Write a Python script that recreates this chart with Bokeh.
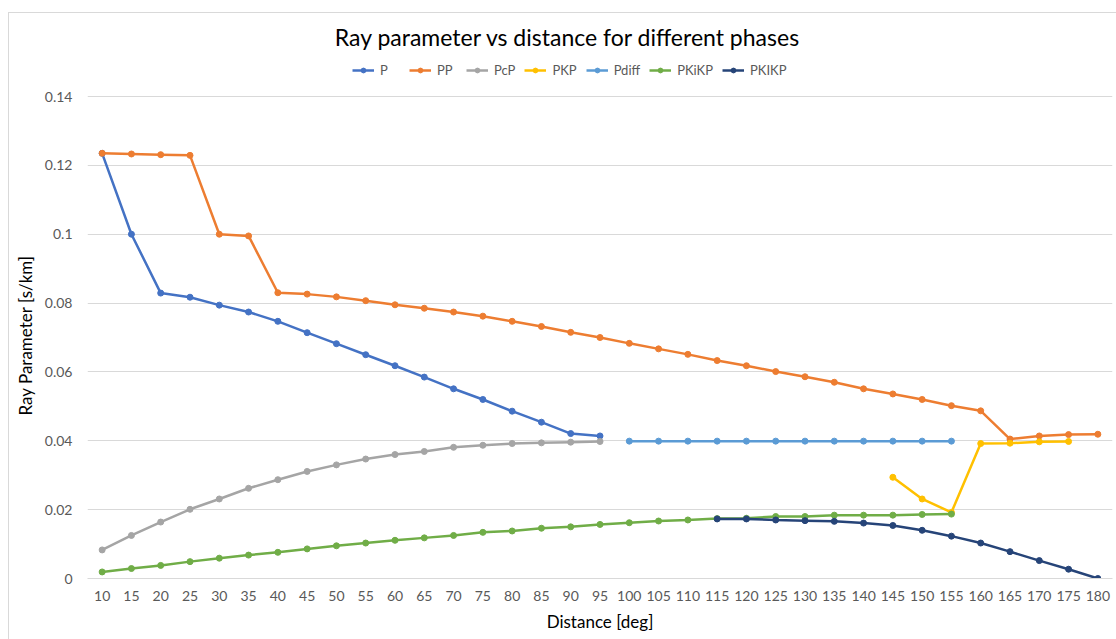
from bokeh.plotting import figure
from bokeh.models import (FactorRange, Range1d, FixedTicker, Legend, LegendItem,
                          Label, Title)
from bokeh.embed import file_html
from bokeh.resources import INLINE

# Epicentral distance categories (deg)
distances = [str(d) for d in range(10, 185, 5)]

# Ray parameter (s/km) per phase, each over the distances where it exists
p_dist = distances[0:18]            # 10..95
p_vals = [0.1235, 0.1000, 0.0829, 0.0817, 0.0794, 0.0774, 0.0747, 0.0714,
          0.0682, 0.0650, 0.0618, 0.0585, 0.0551, 0.0520, 0.0486, 0.0454,
          0.0421, 0.0414]

pp_dist = distances                 # 10..180
pp_vals = [0.1235, 0.1233, 0.1231, 0.1229, 0.1000, 0.0995, 0.0830, 0.0826,
           0.0818, 0.0807, 0.0795, 0.0785, 0.0774, 0.0762, 0.0747, 0.0732,
           0.0715, 0.0700, 0.0683, 0.0667, 0.0651, 0.0633, 0.0618, 0.0601,
           0.0586, 0.0570, 0.0551, 0.0536, 0.0520, 0.0502, 0.0487, 0.0405,
           0.0414, 0.0418, 0.0419]

pcp_dist = distances[0:18]          # 10..95
pcp_vals = [0.0083, 0.0125, 0.0164, 0.0201, 0.0231, 0.0262, 0.0287, 0.0311,
            0.0330, 0.0347, 0.0360, 0.0369, 0.0381, 0.0387, 0.0392, 0.0394,
            0.0396, 0.0398]

pkp_dist = distances[27:34]         # 145..175
pkp_vals = [0.0294, 0.0231, 0.0192, 0.0392, 0.0393, 0.0397, 0.0398]

pdiff_dist = distances[18:30]       # 100..155
pdiff_vals = [0.0399] * 12

pkikp_i_dist = distances[0:30]      # 10..155
pkikp_i_vals = [0.0019, 0.0029, 0.0038, 0.0049, 0.0059, 0.0068, 0.0076,
                0.0086, 0.0095, 0.0103, 0.0111, 0.0118, 0.0125, 0.0134,
                0.0138, 0.0146, 0.0150, 0.0157, 0.0162, 0.0167, 0.0170,
                0.0174, 0.0175, 0.0180, 0.0180, 0.0184, 0.0184, 0.0184,
                0.0186, 0.0187]

pkikp_dist = distances[21:35]       # 115..180
pkikp_vals = [0.0173, 0.0173, 0.0170, 0.0168, 0.0166, 0.0161, 0.0154,
              0.0140, 0.0123, 0.0103, 0.0078, 0.0052, 0.0027, 0.0000]

y_ticks = [0, 0.02, 0.04, 0.06, 0.08, 0.1, 0.12, 0.14]
y_tick_labels = ["0", "0.02", "0.04", "0.06", "0.08", "0.1", "0.12", "0.14"]

series = [
    ("P", p_dist, p_vals, "#4472C4"),
    ("PP", pp_dist, pp_vals, "#ED7D31"),
    ("PcP", pcp_dist, pcp_vals, "#A5A5A5"),
    ("PKP", pkp_dist, pkp_vals, "#FFC000"),
    ("Pdiff", pdiff_dist, pdiff_vals, "#5B9BD5"),
    ("PKiKP", pkikp_i_dist, pkikp_i_vals, "#70AD47"),
    ("PKIKP", pkikp_dist, pkikp_vals, "#264478"),
]

FONT = "Lato"
GRID = "#D9D9D9"
TICK_TEXT = "#595959"

# The frame runs from the chart's top edge down to the zero line; gridlines
# and ticks stop at 0.14, leaving the band above for the title and legend.
FRAME_W, FRAME_H = 1025, 564
PX_PER_UNIT = 482 / 0.14
Y_TOP = FRAME_H / PX_PER_UNIT

p = figure(
    x_range=FactorRange(factors=distances, range_padding=0),
    y_range=Range1d(0, Y_TOP),
    frame_width=FRAME_W, frame_height=FRAME_H,
    min_border_left=78, min_border_right=4,
    min_border_top=1, min_border_bottom=61,
    output_backend="svg", toolbar_location=None,
    background_fill_color="white", border_fill_color="white",
    outline_line_color=None,
)
p.margin = (12, 0, 0, 8)
p.styles = {"border-left": "1px solid #D9D9D9", "border-top": "1px solid #D9D9D9"}

# Chart title, centred over the whole chart area
title_x = (480.5 / FRAME_W) * len(distances)
title_y = (578 - 36) / PX_PER_UNIT
p.add_layout(Label(x=title_x, y=title_y,
                   text="Ray parameter vs distance for different phases",
                   text_font=FONT, text_font_size="23px", text_color="#000000",
                   text_align="center", text_baseline="middle"))

# Axes
p.xgrid.grid_line_color = None
p.ygrid.grid_line_color = GRID
p.ygrid.grid_line_width = 1
p.ygrid.ticker = FixedTicker(ticks=y_ticks)

p.yaxis.ticker = FixedTicker(ticks=y_ticks)
p.yaxis.major_label_overrides = {t: s for t, s in zip(y_ticks, y_tick_labels)}
p.yaxis.axis_line_color = None
p.yaxis.major_tick_line_color = None
p.yaxis.minor_tick_line_color = None
p.yaxis.major_label_standoff = 9

# Y-axis title, centred on the 0..0.14 span instead of the taller frame
p.add_layout(Title(text="Ray Parameter [s/km]", align="left", offset=163,
                   text_font=FONT, text_font_size="17px",
                   text_font_style="normal", text_color="#000000",
                   vertical_align="middle", standoff=9), "left")

p.xaxis.axis_line_color = GRID
p.xaxis.major_tick_line_color = None
p.xaxis.minor_tick_line_color = None
p.xaxis.major_label_standoff = 6
p.xaxis.axis_label = "Distance [deg]"
p.xaxis.axis_label_standoff = 7

for ax in (p.xaxis[0], p.yaxis[0]):
    ax.major_label_text_font = FONT
    ax.major_label_text_font_size = "14px"
    ax.major_label_text_color = TICK_TEXT
    ax.axis_label_text_font = FONT
    ax.axis_label_text_font_size = "17px"
    ax.axis_label_text_font_style = "normal"
    ax.axis_label_text_color = "#000000"

items = []
for name, xs, ys, color in series:
    ln = p.line(xs, ys, line_color=color, line_width=2.5)
    mk = p.scatter(xs, ys, marker="circle", size=6, fill_color=color,
                   line_color=color)
    items.append(LegendItem(label=name, renderers=[ln, mk]))

legend = Legend(items=items, orientation="horizontal", location=(265, 500),
                label_text_font=FONT, label_text_font_size="13px",
                label_text_color=TICK_TEXT, glyph_width=22, glyph_height=12,
                label_standoff=6, spacing=9, padding=2, margin=0,
                border_line_color=None, background_fill_alpha=0)
p.add_layout(legend, "center")

open("out.html", "w").write(file_html(p, INLINE))
